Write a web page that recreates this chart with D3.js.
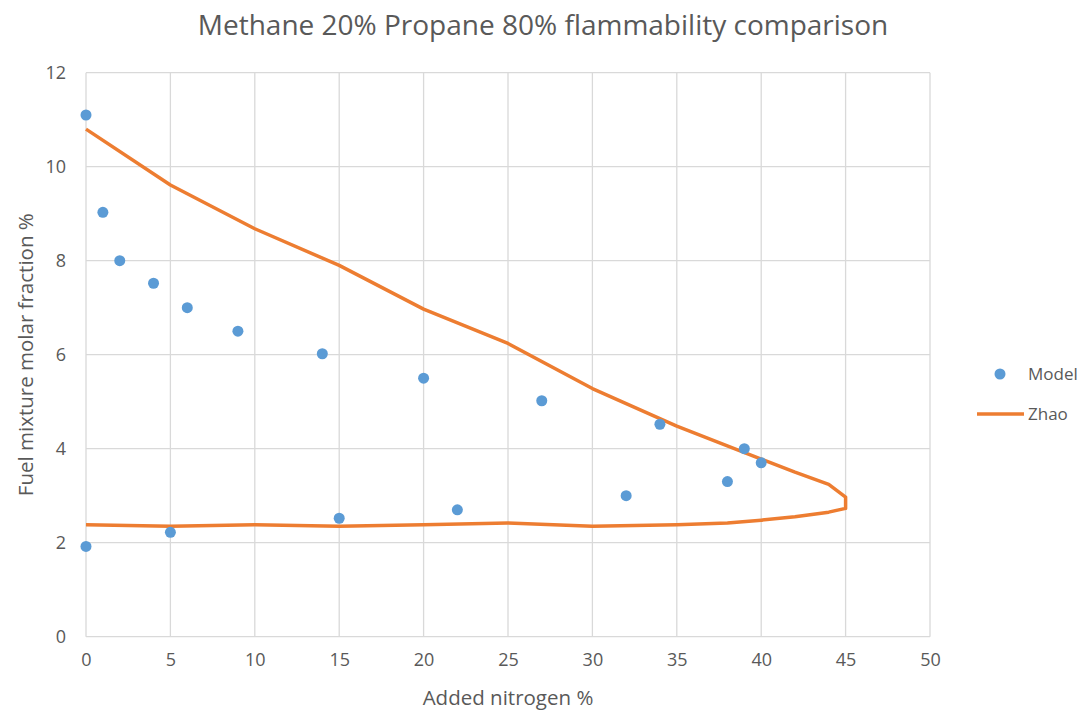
<!DOCTYPE html>
<html lang="en">
<head>
<meta charset="utf-8">
<title>Methane 20% Propane 80% flammability comparison</title>
<script src="https://cdn.jsdelivr.net/npm/d3@7"></script>
<style>
  body { margin: 0; background: #fff; font-family: "Open Sans", sans-serif; }
  .grid line { stroke: #d9d9d9; stroke-width: 1.3; }
  .tick text { fill: #595959; }
</style>
</head>
<body>
<svg id="chart" width="1090" height="711"></svg>
<script>
// Model points (added nitrogen %, fuel fraction %)
var modelX = [0, 1, 2, 4, 6, 9, 14, 20, 27, 34, 39, 40, 38, 32, 22, 15, 5, 0];
var modelY = [11.1, 9.03, 8.0, 7.52, 7.0, 6.5, 6.02, 5.5, 5.02, 4.52, 4.0, 3.7, 3.3, 3.0, 2.7, 2.52, 2.22, 1.92];

// Zhao envelope: upper branch then back along the lower branch
var zhaoX = [0, 5, 10, 15, 20, 25, 30, 35, 40, 42, 44, 45, 45, 44, 42, 40, 38, 35, 30, 25, 20, 15, 10, 5, 0];
var zhaoY = [10.8, 9.61, 8.68, 7.9, 6.97, 6.24, 5.28, 4.48, 3.78, 3.5, 3.24, 2.97, 2.73, 2.65, 2.55, 2.48, 2.42, 2.38, 2.35, 2.42, 2.38, 2.35, 2.38, 2.35, 2.38];

var xTicks = [0, 5, 10, 15, 20, 25, 30, 35, 40, 45, 50];
var yTicks = [0, 2, 4, 6, 8, 10, 12];

var font = "'Open Sans', sans-serif";

var svg = d3.select("#chart"),
    margin = {top: 72.7, left: 86, bottom: 74.3, right: 160},
    width = +svg.attr("width"),
    height = +svg.attr("height");

var x = d3.scaleLinear().domain([0, 50]).range([margin.left, width - margin.right]);
var y = d3.scaleLinear().domain([0, 12]).range([height - margin.bottom, margin.top]);

// gridlines
svg.append("g").attr("class", "grid")
  .selectAll("line").data(xTicks).enter().append("line")
    .attr("x1", d => x(d)).attr("x2", d => x(d))
    .attr("y1", y(0)).attr("y2", y(12));
svg.append("g").attr("class", "grid")
  .selectAll("line").data(yTicks).enter().append("line")
    .attr("x1", x(0)).attr("x2", x(50))
    .attr("y1", d => y(d)).attr("y2", d => y(d));

// axes (labels only, lines come from the grid)
svg.append("g")
  .attr("transform", `translate(0,${y(0)})`)
  .call(d3.axisBottom(x).tickValues(xTicks).tickSize(0).tickPadding(17))
  .call(g => g.select(".domain").remove())
  .selectAll("text").style("font-size", "18px").style("font-family", font);

svg.append("g")
  .attr("transform", `translate(${x(0)},0)`)
  .call(d3.axisLeft(y).tickValues(yTicks).tickSize(0).tickPadding(20))
  .call(g => g.select(".domain").remove())
  .selectAll("text").style("font-size", "18px").style("font-family", font);

// Zhao line
var pts = zhaoX.map((d, i) => [d, zhaoY[i]]);
svg.append("path")
  .datum(pts)
  .attr("fill", "none")
  .attr("stroke", "#ed7d31")
  .attr("stroke-width", 3.5)
  .attr("stroke-linejoin", "round")
  .attr("d", d3.line().x(d => x(d[0])).y(d => y(d[1])));

// Model points
svg.selectAll(".dot")
  .data(modelX.map((d, i) => [d, modelY[i]]))
  .enter().append("circle")
    .attr("class", "dot")
    .attr("cx", d => x(d[0]))
    .attr("cy", d => y(d[1]))
    .attr("r", 5.5)
    .attr("fill", "#5b9bd5");

// title
svg.append("text")
  .attr("x", 543).attr("y", 35)
  .attr("text-anchor", "middle")
  .style("font-size", "28px").style("font-family", font).style("fill", "#595959")
  .text("Methane 20% Propane 80% flammability comparison");

// axis titles
svg.append("text")
  .attr("x", x(25)).attr("y", 705)
  .attr("text-anchor", "middle")
  .style("font-size", "20.5px").style("font-family", font).style("fill", "#595959")
  .text("Added nitrogen %");

svg.append("text")
  .attr("transform", "rotate(-90)")
  .attr("x", -(y(0) + y(12)) / 2).attr("y", 33)
  .attr("text-anchor", "middle")
  .style("font-size", "20.5px").style("font-family", font).style("fill", "#595959")
  .text("Fuel mixture molar fraction %");

// legend
var legend = svg.append("g");
legend.append("circle").attr("cx", 1000).attr("cy", 374).attr("r", 5.5).attr("fill", "#5b9bd5");
legend.append("text").attr("x", 1028).attr("y", 380)
  .style("font-size", "17px").style("font-family", font).style("fill", "#595959").text("Model");
legend.append("line").attr("x1", 977).attr("x2", 1024).attr("y1", 414).attr("y2", 414)
  .attr("stroke", "#ed7d31").attr("stroke-width", 3.5);
legend.append("text").attr("x", 1028).attr("y", 420)
  .style("font-size", "17px").style("font-family", font).style("fill", "#595959").text("Zhao");
</script>
</body>
</html>
